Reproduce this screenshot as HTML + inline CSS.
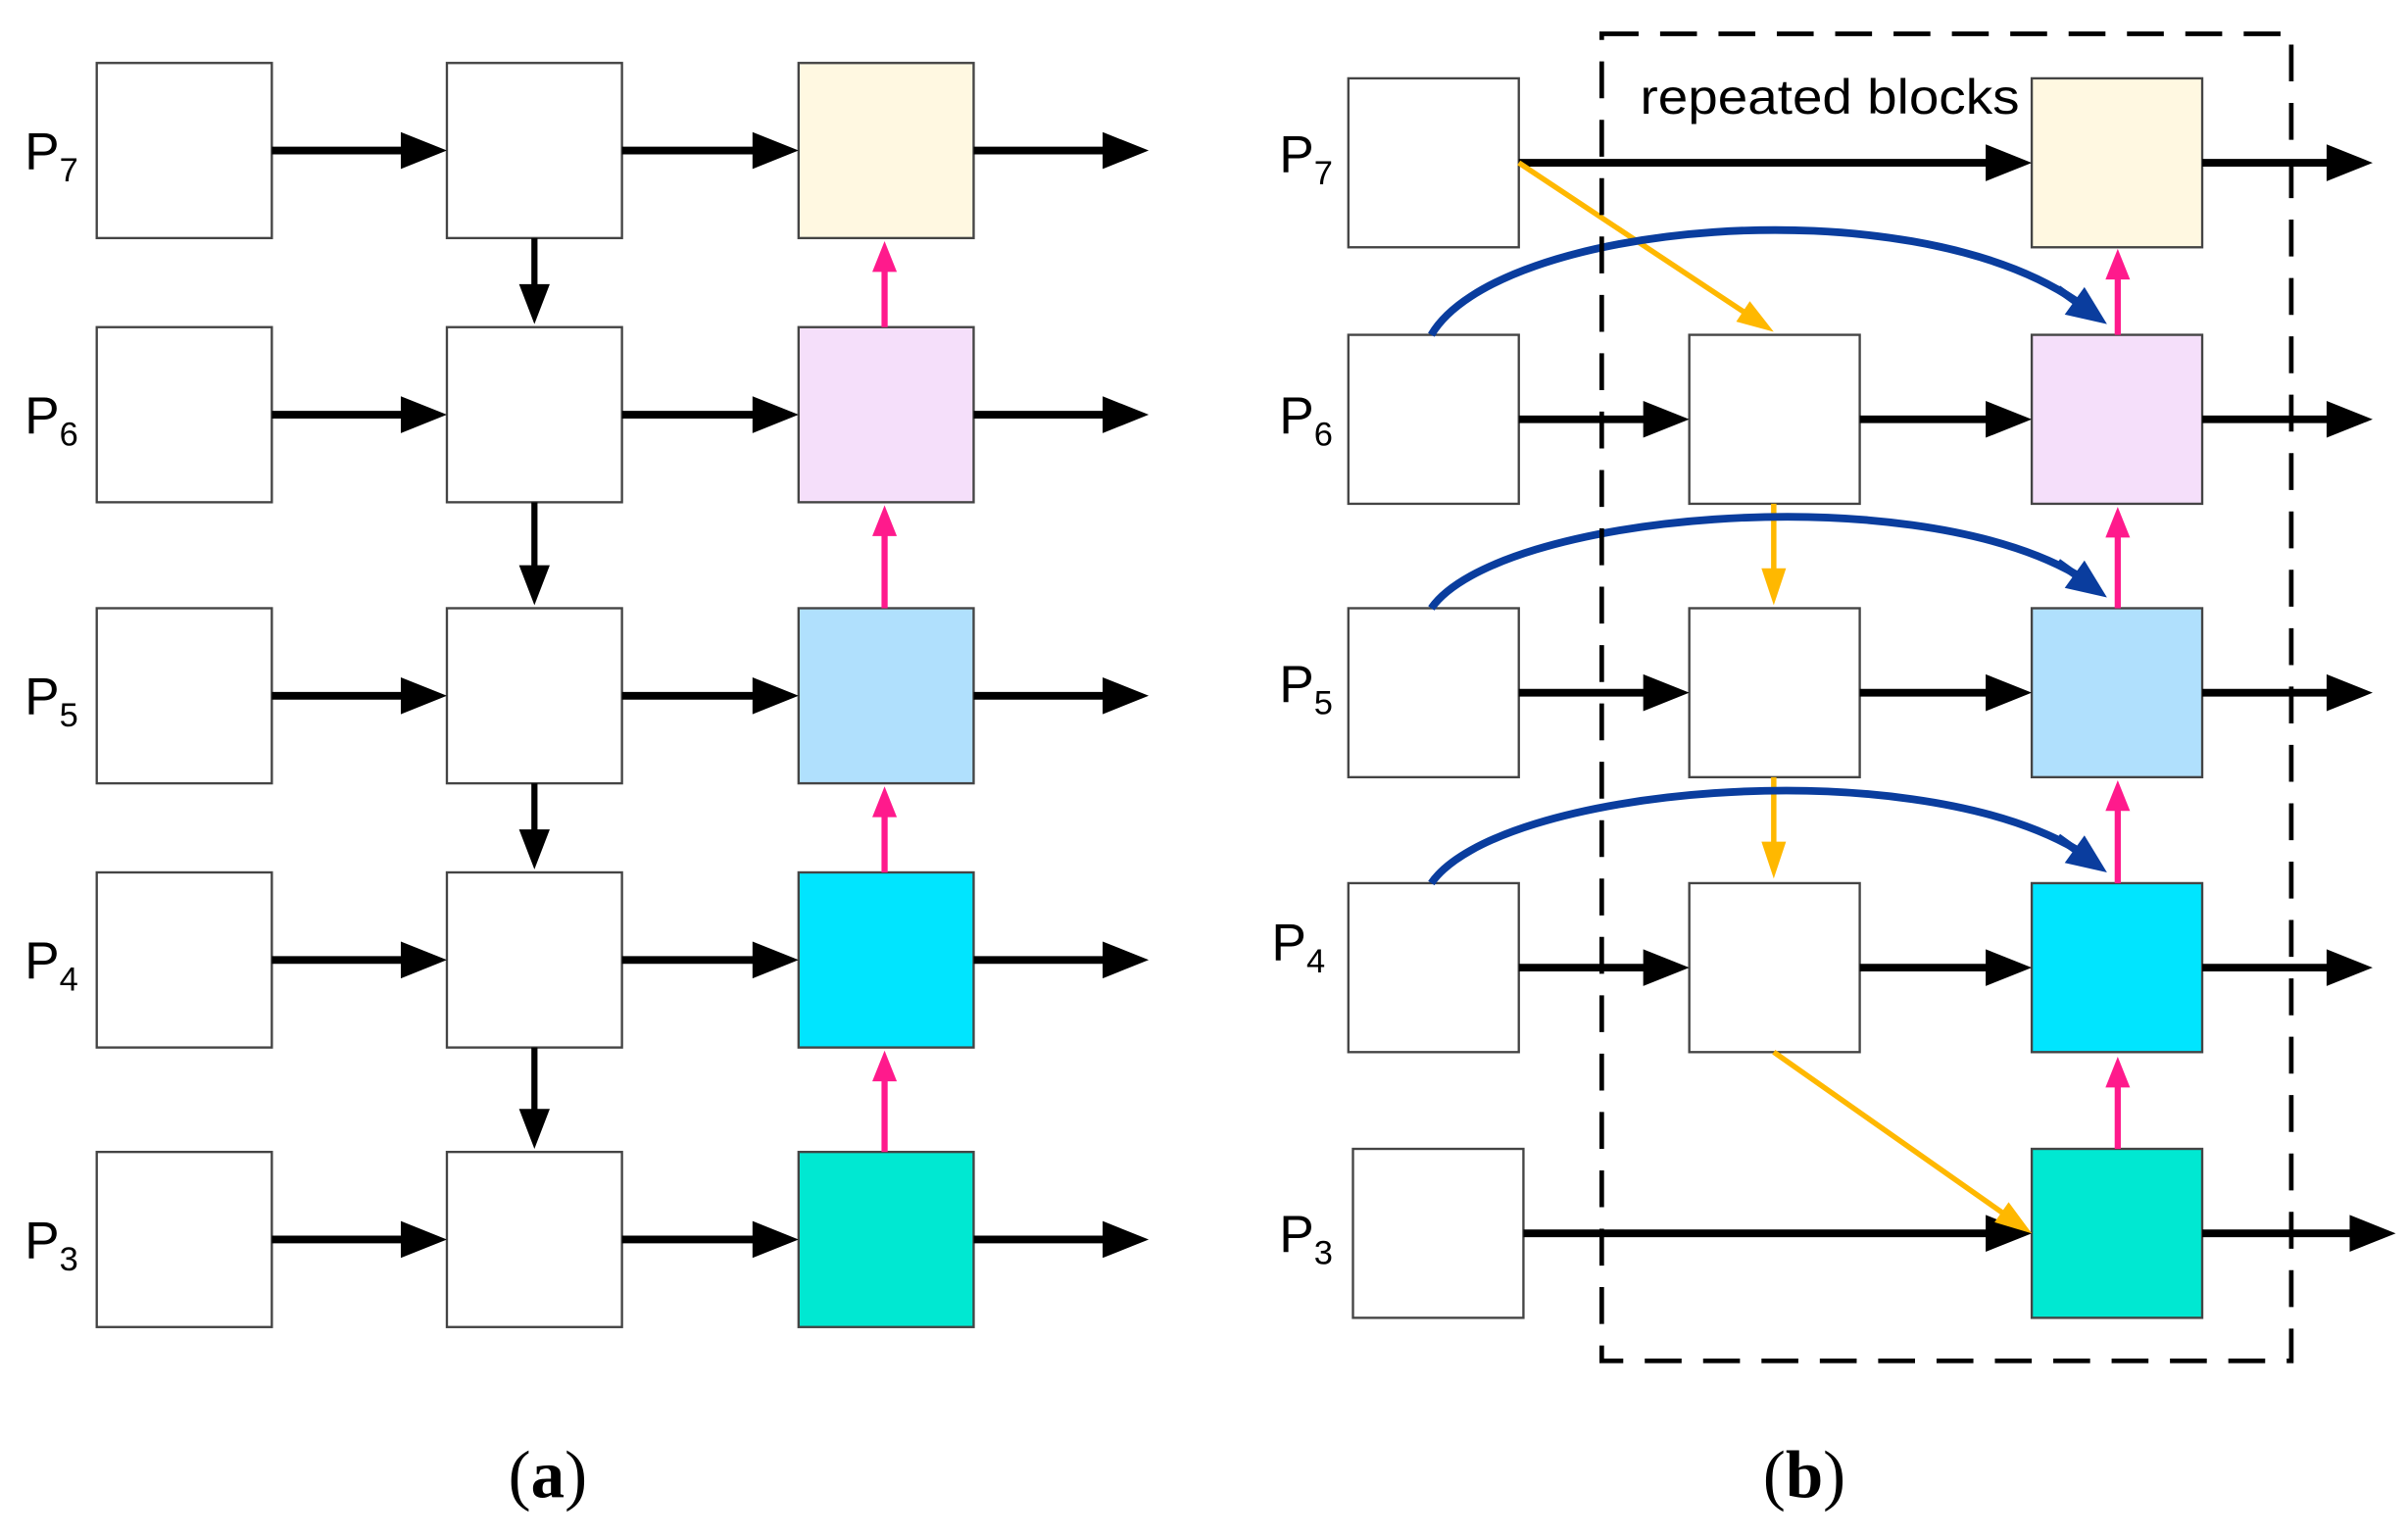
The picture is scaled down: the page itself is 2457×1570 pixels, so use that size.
<!DOCTYPE html>
<html><head><meta charset="utf-8"><style>html,body{margin:0;padding:0;background:#fff}svg{display:block}</style></head>
<body>
<svg id="s" width="2457" height="1570" viewBox="0 0 1568 1002" preserveAspectRatio="none" xmlns="http://www.w3.org/2000/svg">
<rect x="0" y="0" width="1568" height="1002" fill="#fff"/>
<g id="g"></g>
<rect x="1043" y="22" width="449" height="864" fill="none" stroke="#000" stroke-width="3" stroke-dasharray="24,14"/>
<text x="1068" y="74" font-family="Liberation Sans, sans-serif" font-size="32" textLength="247" lengthAdjust="spacingAndGlyphs" fill="#000">repeated blocks</text>
<g font-family="Liberation Sans, sans-serif" fill="#000">
<text x="16" y="110" font-size="34">P<tspan font-size="22" dy="8">7</tspan></text>
<text x="16" y="282" font-size="34">P<tspan font-size="22" dy="8">6</tspan></text>
<text x="16" y="465" font-size="34">P<tspan font-size="22" dy="8">5</tspan></text>
<text x="16" y="637" font-size="34">P<tspan font-size="22" dy="8">4</tspan></text>
<text x="16" y="819" font-size="34">P<tspan font-size="22" dy="8">3</tspan></text>
<text x="833" y="112" font-size="34">P<tspan font-size="22" dy="8">7</tspan></text>
<text x="833" y="282" font-size="34">P<tspan font-size="22" dy="8">6</tspan></text>
<text x="833" y="457" font-size="34">P<tspan font-size="22" dy="8">5</tspan></text>
<text x="828" y="625" font-size="34">P<tspan font-size="22" dy="8">4</tspan></text>
<text x="833" y="815" font-size="34">P<tspan font-size="22" dy="8">3</tspan></text>
</g>
<g font-family="Liberation Serif, serif" font-size="44" fill="#000">
<text x="331" y="975">(<tspan font-weight="bold">a</tspan>)</text>
<text x="1148" y="975">(<tspan font-weight="bold">b</tspan>)</text>
</g>
</svg>
<script>
var g=document.getElementById('g'),h='';
function box(x,y,w,hh,f){h+='<rect x="'+x+'" y="'+y+'" width="'+w+'" height="'+hh+'" fill="'+f+'" stroke="#444" stroke-width="1.5"/>';}
function arr(x1,y1,x2,y2,c,w,L,W){var dx=x2-x1,dy=y2-y1,d=Math.hypot(dx,dy),ux=dx/d,uy=dy/d;var bx=x2-ux*L,by=y2-uy*L;
h+='<line x1="'+x1+'" y1="'+y1+'" x2="'+(bx+ux*2)+'" y2="'+(by+uy*2)+'" stroke="'+c+'" stroke-width="'+w+'"/>';
h+='<polygon points="'+x2+','+y2+' '+(bx-uy*W/2)+','+(by+ux*W/2)+' '+(bx+uy*W/2)+','+(by-ux*W/2)+'" fill="'+c+'"/>';}
function blk(x1,y1,x2,y2){arr(x1,y1,x2,y2,'#000',5,30,24);}
function pk(x,y1,y2){arr(x,y1,x,y2,'#ff1a8c',4,20,16);}
function yl(x1,y1,x2,y2){arr(x1,y1,x2,y2,'#ffb800',3.5,24,16);}
var ra=[41,213,396,568,750],cols=['#fff8e1','#f5dffa','#b0e0fd','#00e5ff','#00e8d2'];
ra.forEach(function(y,i){box(63,y,114,114,'#fff');box(291,y,114,114,'#fff');box(520,y,114,114,cols[i]);
var c=y+57;blk(177,c,291,c);blk(405,c,520,c);blk(634,c,748,c);});
[[155,211],[327,394],[510,566],[682,748]].forEach(function(p){arr(348,p[0],348,p[1],'#000',4,26,20);});
[[213,157],[396,329],[568,512],[750,684]].forEach(function(p){pk(576,p[0],p[1]);});
var rb=[51,218,396,575,748];
rb.forEach(function(y,i){box(i==4?881:878,y,111,110,'#fff');box(1323,y,111,110,cols[i]);if(i>0&&i<4)box(1100,y,111,110,'#fff');});
blk(989,106,1323,106);blk(1434,106,1545,106);
[273,451,630].forEach(function(c){blk(989,c,1100,c);blk(1211,c,1323,c);blk(1434,c,1545,c);});
blk(992,803,1323,803);blk(1434,803,1560,803);
[[218,162],[396,330],[575,508],[748,688]].forEach(function(p){pk(1379,p[0],p[1]);});
yl(989,106,1155,216);yl(1155,328,1155,394);yl(1155,506,1155,572);yl(1155,685,1323,803);
[[218,150],[396,340],[575,518]].forEach(function(p){var y=p[0],t=p[1]-30;
h+='<path d="M932,'+y+' C975,'+(t+25)+' 1240,'+t+' 1352,'+(y-22)+'" fill="none" stroke="#0a3d9e" stroke-width="5"/>';
arr(1340,y-30,1372,y-7,'#0a3d9e',5,26,22);});
g.innerHTML=h;
</script>
</body></html>
